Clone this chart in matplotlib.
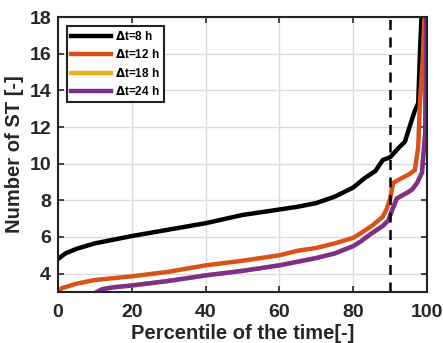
import matplotlib.pyplot as plt
import numpy as np

plt.rcParams['font.family'] = ['Liberation Sans', 'DejaVu Sans']
plt.rcParams['font.weight'] = 'bold'

# percentile curves of the number of ST for each time step
pct_8 = [0, 2, 5, 10, 15, 20, 30, 40, 50, 60, 65, 70, 75, 80, 83, 86, 88, 90, 92, 94,
         95.8, 96.7, 97.6, 98.1, 98.5]
st_8 = [4.8, 5.1, 5.35, 5.65, 5.85, 6.05, 6.4, 6.75, 7.2, 7.5, 7.65, 7.85, 8.2, 8.7, 9.2,
        9.6, 10.2, 10.35, 10.8, 11.2, 12.35, 12.9, 13.3, 16.2, 18.0]

pct_12 = [0, 1, 5, 10, 20, 30, 40, 50, 60, 62, 65, 70, 75, 80, 82, 85, 88, 89, 90, 90.8,
          93, 95, 96.7, 97.6, 98.1, 98.8, 99.3]
st_12 = [3.0, 3.2, 3.45, 3.65, 3.85, 4.1, 4.45, 4.7, 5.0, 5.1, 5.25, 5.4, 5.65, 5.95, 6.2,
         6.6, 7.1, 7.5, 8.1, 8.95, 9.2, 9.4, 9.65, 10.9, 13.4, 15.6, 18.0]

pct_18 = [10.6, 12, 15, 20, 30, 40, 50, 60, 70, 75, 80, 82, 85, 88, 89.5, 90.5, 91.8, 94.9,
          96, 97.3, 98.6, 99.5, 99.7]
st_18 = [3.0, 3.15, 3.25, 3.35, 3.6, 3.9, 4.15, 4.45, 4.85, 5.1, 5.5, 5.75, 6.2, 6.6, 6.9,
         7.45, 8.1, 8.45, 8.6, 8.95, 9.5, 11.65, 18.0]

pct_24 = [10.6, 12, 15, 20, 30, 40, 50, 60, 70, 75, 80, 82, 85, 88, 89.5, 90.5, 91.8, 94.9,
          96, 97.3, 98.6, 99.5, 99.7]
st_24 = [3.0, 3.15, 3.25, 3.35, 3.6, 3.9, 4.15, 4.45, 4.85, 5.1, 5.5, 5.75, 6.2, 6.6, 6.9,
         7.45, 8.1, 8.45, 8.6, 8.95, 9.5, 11.65, 18.0]

threshold = 90

fig = plt.figure(figsize=(4.43, 3.43), dpi=100)
ax = fig.add_axes([0.131, 0.149, 0.833, 0.801])

ax.plot(pct_8, st_8, color='black', lw=3.2, label=r'$\Delta$t=8 h')
ax.plot(pct_12, st_12, color='#D95319', lw=3.2, label=r'$\Delta$t=12 h')
ax.plot(pct_18, st_18, color='#EDB120', lw=3.2, label=r'$\Delta$t=18 h')
ax.plot(pct_24, st_24, color='#7E2F8E', lw=3.2, label=r'$\Delta$t=24 h')
ax.axvline(threshold, color='black', lw=1.8, ls=(0, (4, 3)))

ax.set_xlim(0, 100)
ax.set_ylim(3, 18)
ax.set_xticks(np.arange(0, 101, 20))
ax.set_yticks(np.arange(4, 19, 2))
ax.grid(True, color='#dcdcdc', lw=1)
ax.set_axisbelow(True)
ax.tick_params(direction='in', top=True, right=True, labelsize=14, length=4, width=1.2,
               colors='#262626', pad=5)
ax.tick_params(axis='x', pad=9)
for s in ax.spines.values():
    s.set_linewidth(1.5)
    s.set_color('#222222')

ax.set_xlabel('Percentile of the time[-]', fontsize=14.5, fontweight='bold', labelpad=2,
              color='#262626')
ax.set_ylabel('Number of ST [-]', fontsize=14.5, fontweight='bold', labelpad=4,
              color='#262626')

leg = ax.legend(loc='upper left', fontsize=8.5, handlelength=3.4, handletextpad=0.3,
                labelspacing=0.45, borderpad=0.35, fancybox=False, framealpha=1,
                edgecolor='#222222', borderaxespad=0.75)
leg.get_frame().set_linewidth(1.5)
for t in leg.get_texts():
    t.set_fontweight('bold')

fig.savefig('out.png', dpi=100)
